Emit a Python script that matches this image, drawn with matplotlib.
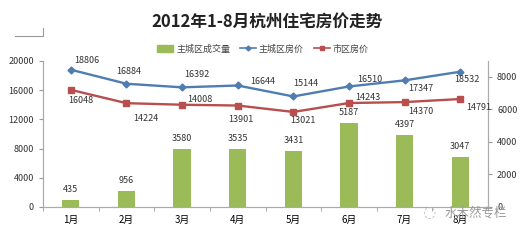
import numpy as np
import matplotlib.pyplot as plt
from matplotlib.lines import Line2D
from matplotlib.patches import Patch

plt.rcParams['font.family'] = ['Noto Sans CJK SC', 'DejaVu Sans']

# 数据
months = ['1月', '2月', '3月', '4月', '5月', '6月', '7月', '8月']
volume = [435, 956, 3580, 3535, 3431, 5187, 4397, 3047]          # 主城区成交量
price_main = [18806, 16884, 16392, 16644, 15144, 16510, 17347, 18532]  # 主城区房价
price_city = [16048, 14224, 14008, 13901, 13021, 14243, 14370, 14791]  # 市区房价

# 标签偏移 (像素)
off_main = [(16, 9), (2, 12), (15, 13), (25, 4), (12, 13), (21, 7), (16, -8), (7, -8)]
off_city = [(10, -11), (19, -15), (18, 5), (3, -14), (10, -9), (19, 6), (16, -9), (19, -8)]

c_bar = '#9BBB59'
c_main = '#4F7DB0'
c_city = '#B84E4E'

fig = plt.figure(figsize=(5.26, 2.4), dpi=100)
ax = fig.add_axes([43 / 526, 33 / 240, 445 / 526, 146 / 240])
ax2 = ax.twinx()

x = np.arange(len(months))

ax2.bar(x, volume, width=0.31, color=c_bar, zorder=1)
for xi, v in zip(x, volume):
    ax2.annotate(str(v), (xi, v), xytext=(0, 6), textcoords='offset pixels',
                 ha='center', va='bottom', fontsize=6.5, color='#333333')

ax.set_zorder(ax2.get_zorder() + 1)
ax.patch.set_visible(False)

ax.plot(x, price_main, color=c_main, lw=1.7, marker='D', ms=3.5, zorder=3)
ax.plot(x, price_city, color=c_city, lw=1.7, marker='s', ms=5, zorder=3)
for xi, v, o in zip(x, price_main, off_main):
    ax.annotate(str(v), (xi, v), xytext=o, textcoords='offset pixels',
                ha='center', va='center', fontsize=6.5, color='#333333')
for xi, v, o in zip(x, price_city, off_city):
    ax.annotate(str(v), (xi, v), xytext=o, textcoords='offset pixels',
                ha='center', va='center', fontsize=6.5, color='#333333')

ax.set_xlim(-0.5, 7.5)
ax.set_ylim(0, 20000)
ax.set_yticks(np.arange(0, 20001, 4000))
ax2.set_ylim(0, 8966)
ax2.set_yticks(np.arange(0, 8001, 2000))

ax.set_xticks(x)
ax.set_xticklabels(months)
ax.set_xticks(np.arange(-0.5, 8, 1), minor=True)
ax.tick_params(axis='x', which='major', length=0, labelsize=7, pad=6)
ax.tick_params(axis='x', which='minor', length=3, color='#999999')
ax.tick_params(axis='y', labelsize=6.5, length=3, color='#999999', labelcolor='#333333')
ax2.tick_params(axis='y', labelsize=6.5, length=3, color='#999999', labelcolor='#333333')

for a in (ax, ax2):
    a.spines['top'].set_visible(False)
    for s in ('left', 'right', 'bottom'):
        a.spines[s].set_color('#AAAAAA')
        a.spines[s].set_linewidth(0.8)

fig.text(0.507, 1 - 22 / 240, '2012年1-8月杭州住宅房价走势', ha='center', va='center',
         fontsize=12, fontweight='bold', color='#222222')

handles = [Patch(color=c_bar),
           Line2D([], [], color=c_main, marker='D', ms=2.5, lw=1.2),
           Line2D([], [], color=c_city, marker='s', ms=3.5, lw=1.2)]
fig.legend(handles, ['主城区成交量', '主城区房价', '市区房价'], loc='center',
           bbox_to_anchor=(0.5, 1 - 49 / 240), ncol=3, frameon=False, fontsize=6.5,
           handlelength=1.8, handletextpad=0.3, columnspacing=1.1, labelcolor='#444444')

# 左上角的小框线
fig.add_artist(Line2D([15 / 526, 43 / 526, 43 / 526], [1 - 36 / 240, 1 - 36 / 240, 1 - 28 / 240],
                      color='#999999', lw=0.8))

# 水印
fig.text(0.815, 1 - 213 / 240, '◌', ha='center', va='center', fontsize=11,
         color='#BBBBBB', family=['DejaVu Sans'])
fig.text(0.905, 1 - 213 / 240, '水木然专栏', ha='center', va='center', fontsize=9,
         color='#999999')

fig.savefig('out.png', dpi=100)
